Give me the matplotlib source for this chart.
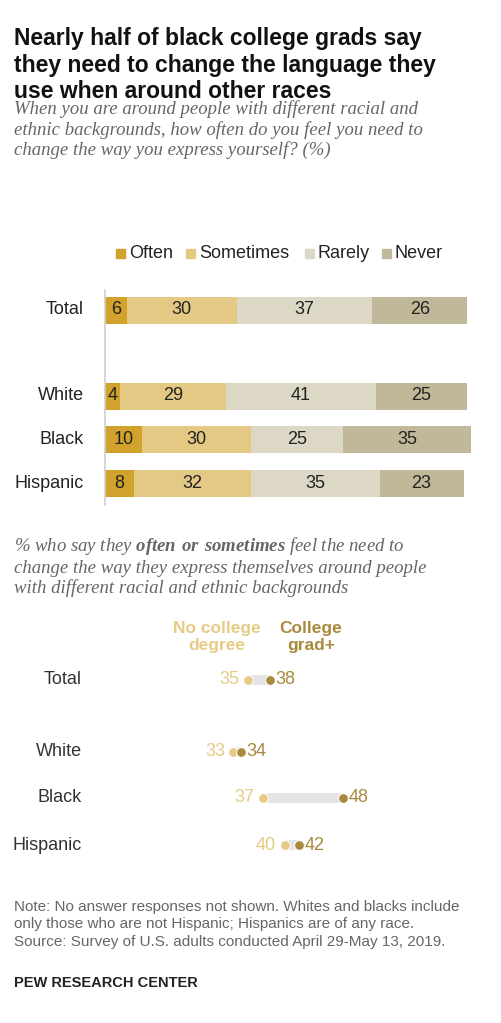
import matplotlib.pyplot as plt

# Data
groups = ["Total", "White", "Black", "Hispanic"]
often = [6, 4, 10, 8]
sometimes = [30, 29, 30, 32]
rarely = [37, 41, 25, 35]
never = [26, 25, 35, 23]
no_college = [35, 33, 37, 40]
college = [38, 34, 48, 42]

W, H = 502, 1023
fig = plt.figure(figsize=(W / 100, H / 100), dpi=100)
plt.rcParams["font.family"] = "Liberation Sans"
plt.rcParams["mathtext.fontset"] = "custom"
plt.rcParams["mathtext.bf"] = "Liberation Serif:bold:italic"
plt.rcParams["mathtext.rm"] = "Liberation Serif:italic"


def fx(px):
    return px / W


def fy(py):
    return 1 - py / H


def txt(x, y, s, **kw):
    fig.text(fx(x), fy(y), s, **kw)


# Header
txt(14, 27, "Nearly half of black college grads say\nthey need to change the language they\nuse when around other races",
    fontsize=16.5, fontweight="bold", va="top", linespacing=1.2, color="#111111")
txt(14, 100, "When you are around people with different racial and\nethnic backgrounds, how often do you feel you need to\nchange the way you express yourself? (%)",
    fontsize=13.5, style="italic", family="Liberation Serif", va="top", color="#666666", linespacing=1.2)

# Stacked bars
row_px = [310, 396, 439, 483]
ax1 = fig.add_axes([fx(105), fy(505), fx(366), (505 - 290) / H])
ax1.set_xlim(0, 100)
ax1.set_ylim(505, 290)
ax1.axis("off")
ax1.plot([0, 0], [290, 505], color="#d0d0d0", lw=1.2, clip_on=False)
cols = ["#d1a32c", "#e3c983", "#dcd8c5", "#c1b899"]
names = ["Often", "Sometimes", "Rarely", "Never"]
series = [often, sometimes, rarely, never]
left = [0] * 4
for vals, c in zip(series, cols):
    ax1.barh(row_px, vals, left=left, height=27, color=c)
    for y, l, v in zip(row_px, left, vals):
        ax1.text(l + v / 2, y, str(v), ha="center", va="center", fontsize=13, color="#222222")
    left = [l + v for l, v in zip(left, vals)]
for y, g in zip(row_px, groups):
    txt(84, y, g, ha="right", va="center", fontsize=13, color="#222222")

# Legend
leg_x = [116, 186, 305, 382]
for x, n, c in zip(leg_x, names, cols):
    fig.patches.append(plt.Rectangle((fx(x), fy(258)), fx(9), 9 / H, color=c,
                                     transform=fig.transFigure, figure=fig))
    txt(x + 13, 253, n, va="center", fontsize=13, color="#222222")

# Dumbbell section
txt(14, 535, "% who say they $\\mathbf{often\\ or\\ sometimes}$ feel the need to\nchange the way they express themselves around people\nwith different racial and ethnic backgrounds",
    fontsize=13.5, style="italic", family="Liberation Serif", va="top", color="#666666", linespacing=1.2)
light, dark = "#e6cb85", "#a88a3e"
txt(217, 637, "No college\ndegree", ha="center", va="center", fontsize=12.5, fontweight="bold", color=light, linespacing=1.1)
txt(311, 637, "College\ngrad+", ha="center", va="center", fontsize=12.5, fontweight="bold", color=dark, linespacing=1.1)

dot_px = [680, 752, 798, 845]
ax2 = fig.add_axes([fx(138.5), fy(870), fx(292), (870 - 660) / H])
ax2.set_xlim(20, 60)
ax2.set_ylim(870, 660)
ax2.axis("off")
for y, a, b, g in zip(dot_px, no_college, college, groups):
    ax2.plot([a, b], [y, y], color="#e3e3e3", lw=7, solid_capstyle="butt", zorder=1)
    ax2.scatter([a], [y], s=50, color=light, edgecolor="white", lw=0.8, zorder=2)
    ax2.scatter([b], [y], s=50, color=dark, edgecolor="white", lw=0.8, zorder=3)
    ax2.annotate(str(a), (a, y), xytext=(-6, 0), textcoords="offset points",
                 ha="right", va="center", fontsize=13, color=light)
    ax2.annotate(str(b), (b, y), xytext=(4, 0), textcoords="offset points",
                 ha="left", va="center", fontsize=13, color=dark)
    txt(82, y, g, ha="right", va="center", fontsize=13, color="#333333")

# Footer
txt(14, 900, "Note: No answer responses not shown. Whites and blacks include\nonly those who are not Hispanic; Hispanics are of any race.\nSource: Survey of U.S. adults conducted April 29-May 13, 2019.",
    fontsize=11, va="top", color="#666666", linespacing=1.3)
txt(14, 983, "PEW RESEARCH CENTER", fontsize=10.5, fontweight="bold", va="center", color="#222222")

fig.savefig("out.png", dpi=100)
